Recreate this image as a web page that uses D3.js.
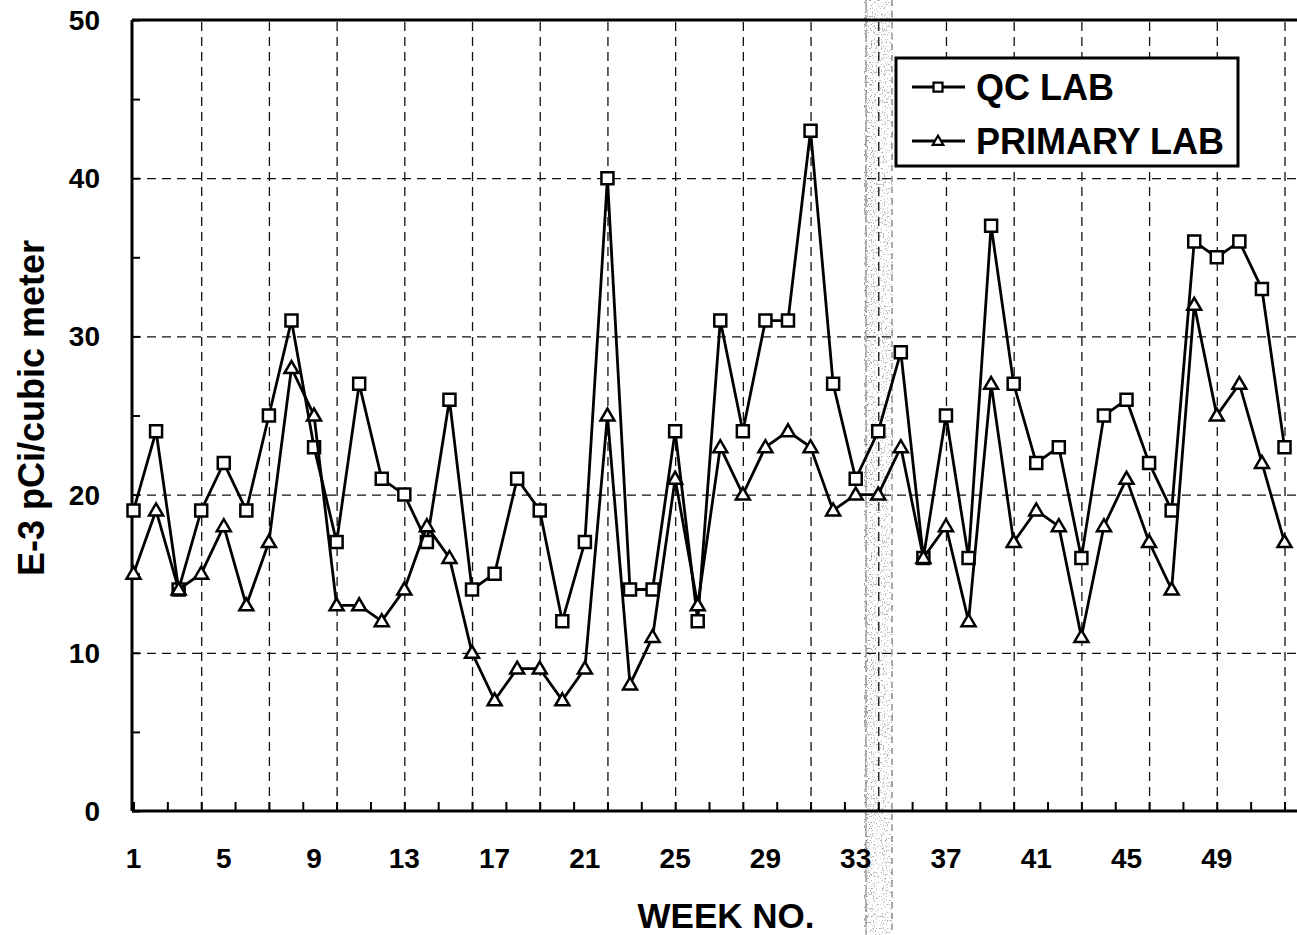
<!DOCTYPE html>
<html>
<head>
<meta charset="utf-8">
<script src="https://cdn.jsdelivr.net/npm/d3@7"></script>
<style>
  html, body { margin: 0; padding: 0; background: #fff; }
  svg { display: block; }
  text { font-family: "Liberation Sans", Arial, sans-serif; font-weight: bold; fill: #000; }
</style>
</head>
<body>
<svg id="chart"></svg>
<script>
// weekly results, E-3 pCi per cubic meter
const weeks = d3.range(1, 53);
const qcLab = [19, 24, 14, 19, 22, 19, 25, 31, 23, 17, 27, 21, 20, 17, 26, 14, 15, 21, 19, 12,
               17, 40, 14, 14, 24, 12, 31, 24, 31, 31, 43, 27, 21, 24, 29, 16, 25, 16, 37, 27,
               22, 23, 16, 25, 26, 22, 19, 36, 35, 36, 33, 23];
const primaryLab = [15, 19, 14, 15, 18, 13, 17, 28, 25, 13, 13, 12, 14, 18, 16, 10, 7, 9, 9, 7,
                    9, 25, 8, 11, 21, 13, 23, 20, 23, 24, 23, 19, 20, 20, 23, 16, 18, 12, 27, 17,
                    19, 18, 11, 18, 21, 17, 14, 32, 25, 27, 22, 17];

const yTicks = [0, 10, 20, 30, 40, 50];
const yMinorTicks = [5, 15, 25, 35, 45];
const xLabels = [1, 5, 9, 13, 17, 21, 25, 29, 33, 37, 41, 45, 49];
const xGrid = [1, 4, 7, 10, 13, 16, 19, 22, 25, 28, 31, 34, 37, 40, 43, 46, 49, 52];
const xMinor = [2.5, 5.5, 8.5, 11.5, 14.5, 17.5, 20.5, 23.5, 26.5, 29.5, 32.5, 35.5, 38.5,
                41.5, 44.5, 47.5, 50.5];

const W = 1297, H = 935;
const plotLeft = 132, plotTop = 20, plotBottom = 811, plotRight = 1297;

const svg = d3.select("#chart").attr("width", W).attr("height", H);

const x = d3.scaleLinear().domain([1, 52]).range([133.5, 1284.5]);
const y = d3.scaleLinear().domain([0, 50]).range([plotBottom, plotTop]);

// scan streak across the page
const defs = svg.append("defs");
const f = defs.append("filter").attr("id", "speckle")
    .attr("x", 0).attr("y", 0).attr("width", "100%").attr("height", "100%");
f.append("feTurbulence").attr("type", "fractalNoise").attr("baseFrequency", "0.9 0.5")
    .attr("numOctaves", 2).attr("seed", 11);
f.append("feColorMatrix").attr("type", "matrix")
    .attr("values", "0 0 0 0 0.2  0 0 0 0 0.2  0 0 0 0 0.2  -9 0 0 0 3.9");

const band = svg.append("g");
band.append("rect").attr("x", 864).attr("y", 0).attr("width", 29).attr("height", H)
    .attr("filter", "url(#speckle)").attr("opacity", 0.5);
band.append("rect").attr("x", 864).attr("y", 0).attr("width", 8).attr("height", H)
    .attr("filter", "url(#speckle)").attr("opacity", 0.45);
band.append("line").attr("x1", 866).attr("x2", 866).attr("y1", 0).attr("y2", H)
    .attr("stroke", "#888").attr("stroke-width", 1.2).attr("stroke-dasharray", "12,3");
band.append("line").attr("x1", 892).attr("x2", 892).attr("y1", 0).attr("y2", H)
    .attr("stroke", "#777").attr("stroke-width", 1.2).attr("stroke-dasharray", "6,5");

// gridlines
svg.append("g")
    .attr("transform", `translate(0,${plotBottom})`)
    .call(d3.axisBottom(x).tickValues(xGrid.slice(1)).tickSize(-(plotBottom - plotTop)).tickFormat(""))
    .call(g => g.select(".domain").remove())
    .call(g => g.selectAll("line").attr("stroke", "#111").attr("stroke-width", 1.3)
        .attr("stroke-dasharray", "9,6"));

svg.append("g")
    .attr("transform", `translate(${plotLeft},0)`)
    .call(d3.axisLeft(y).tickValues(yTicks.slice(1, -1)).tickSize(-(plotRight - plotLeft)).tickFormat(""))
    .call(g => g.select(".domain").remove())
    .call(g => g.selectAll("line").attr("stroke", "#111").attr("stroke-width", 1.3)
        .attr("stroke-dasharray", "9,6"));

// axis ticks (inside)
svg.append("g")
    .attr("transform", `translate(0,${plotBottom})`)
    .call(d3.axisBottom(x).tickValues(xGrid.concat(xMinor)).tickSize(-9).tickFormat(""))
    .call(g => g.select(".domain").remove())
    .call(g => g.selectAll("line").attr("stroke", "#000").attr("stroke-width", 2));

svg.append("g")
    .attr("transform", `translate(${plotLeft},0)`)
    .call(d3.axisLeft(y).tickValues(yTicks.concat(yMinorTicks)).tickSize(-8).tickFormat(""))
    .call(g => g.select(".domain").remove())
    .call(g => g.selectAll("line").attr("stroke", "#000").attr("stroke-width", 2));

// frame
svg.append("line").attr("x1", plotLeft).attr("x2", plotRight).attr("y1", plotBottom).attr("y2", plotBottom)
    .attr("stroke", "#000").attr("stroke-width", 3);
svg.append("line").attr("x1", plotLeft).attr("x2", plotLeft).attr("y1", plotTop).attr("y2", plotBottom)
    .attr("stroke", "#000").attr("stroke-width", 3);
svg.append("line").attr("x1", plotLeft).attr("x2", plotRight).attr("y1", plotTop).attr("y2", plotTop)
    .attr("stroke", "#000").attr("stroke-width", 3);

// tick labels
svg.append("g").selectAll("text").data(yTicks).join("text")
    .attr("x", 100).attr("y", d => y(d)).attr("dy", "0.36em")
    .attr("text-anchor", "end").style("font-size", "28px").text(d => d);

svg.append("g").selectAll("text").data(xLabels).join("text")
    .attr("x", d => x(d)).attr("y", 858).attr("dy", "0.36em")
    .attr("text-anchor", "middle").style("font-size", "28px").text(d => d);

// axis titles
svg.append("text").attr("x", 726).attr("y", 928).attr("text-anchor", "middle")
    .style("font-size", "35px").text("WEEK NO.");
svg.append("text").attr("transform", "translate(44,408) rotate(-90)")
    .attr("text-anchor", "middle").style("font-size", "36px").text("E-3 pCi/cubic meter");

// series
const square = "M-6,-6H6V6H-6Z";
const triangle = "M-7,5H7L0,-7Z";
const series = [
    { name: "QC LAB", values: qcLab, marker: square },
    { name: "PRIMARY LAB", values: primaryLab, marker: triangle }
];

const line = d3.line().x((d, i) => x(weeks[i])).y(d => y(d));

series.forEach(s => {
    svg.append("path").datum(s.values).attr("d", line)
        .attr("fill", "none").attr("stroke", "#000").attr("stroke-width", 2.8)
        .attr("stroke-linejoin", "miter");
    svg.append("g").selectAll("path").data(s.values).join("path")
        .attr("transform", (d, i) => `translate(${x(weeks[i])},${y(d)})`)
        .attr("d", s.marker).attr("fill", "#fff").attr("stroke", "#000").attr("stroke-width", 2.5);
});

// legend
const lg = svg.append("g");
lg.append("rect").attr("x", 896).attr("y", 58).attr("width", 342).attr("height", 108)
    .attr("fill", "#fff").attr("stroke", "#000").attr("stroke-width", 3);
series.forEach((s, i) => {
    const cy = 87 + i * 54;
    lg.append("line").attr("x1", 912).attr("x2", 965).attr("y1", cy).attr("y2", cy)
        .attr("stroke", "#000").attr("stroke-width", 2.8);
    lg.append("path").attr("transform", `translate(938,${cy}) scale(0.75)`)
        .attr("d", s.marker).attr("fill", "#fff").attr("stroke", "#000").attr("stroke-width", 3);
    lg.append("text").attr("x", 976).attr("y", cy).attr("dy", "0.36em")
        .style("font-size", "36px").text(s.name);
});
</script>
</body>
</html>
